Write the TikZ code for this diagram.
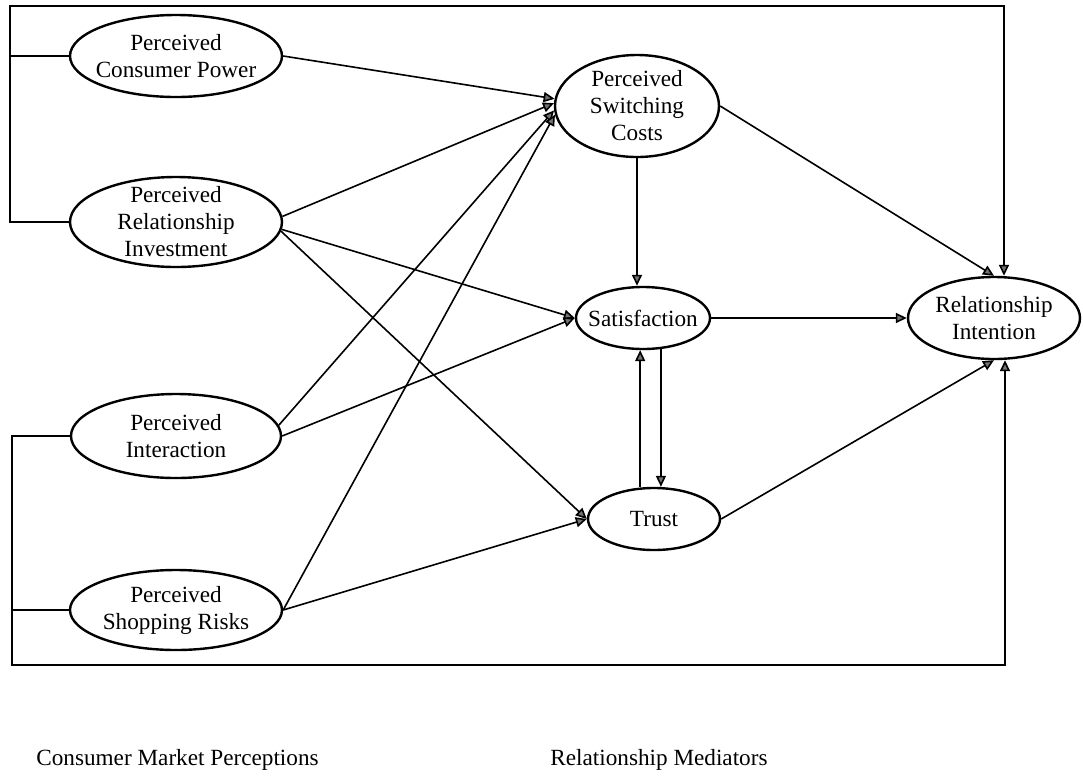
\documentclass[tikz,border=0pt]{standalone}
\usepackage{fontspec}
\setmainfont{Liberation Serif}
\usetikzlibrary{arrows.meta,shapes.geometric}
\begin{document}
\begin{tikzpicture}
% Path model: consumer market perceptions -> relationship mediators -> intention
\def\pxsz{0.5pt}
\providecommand{\modelLineWidth}{0.8pt}
\providecommand{\modelShapeWidth}{1.2pt}
\providecommand{\modelTipColor}{black!55}
\begin{scope}[x=\pxsz, y=-\pxsz,
  construct/.style={ellipse, draw, line width=\modelShapeWidth, inner sep=-6pt,
    align=center, font=\fontsize{11.6}{13.5}\selectfont},
  effect/.style={line width=\modelLineWidth, -{Triangle[length=5.5pt,width=5pt,fill=\modelTipColor]}},
  link/.style={line width=\modelLineWidth},
  caption/.style={anchor=base west, inner sep=0pt, font=\fontsize{11.6}{13.5}\selectfont}]
  \useasboundingbox (0,0) rectangle (1083,778);
  % Constructs
  \node[construct, minimum width=106pt, minimum height=41pt] (pcp) at (176,56) {Perceived\\Consumer Power};
  \node[construct, minimum width=106pt, minimum height=45pt] (pri) at (176,222) {Perceived\\Relationship\\Investment};
  \node[construct, minimum width=105pt, minimum height=42pt] (pi) at (176,436) {Perceived\\Interaction};
  \node[construct, minimum width=106pt, minimum height=40pt] (psr) at (176,610) {Perceived\\Shopping Risks};
  \node[construct, minimum width=82pt, minimum height=51pt] (psc) at (637,106) {Perceived\\Switching\\Costs};
  \node[construct, minimum width=67pt, minimum height=31pt] (sat) at (643,318) {Satisfaction};
  \node[construct, minimum width=66pt, minimum height=31pt] (trust) at (654,519) {Trust};
  \node[construct, minimum width=86pt, minimum height=41pt] (ri) at (994,318) {Relationship\\Intention};
  % Frame corners
  \coordinate (tl) at (10,6);
  \coordinate (tr) at (1004,6);
  \coordinate (bl) at (12,665);
  \coordinate (br) at (1005,665);
  % Outer brackets to the intention
  \draw[link] (pcp.west) -- (pcp.west -| tl);
  \draw[effect] (pri.west) -| (tl) -- (tr) -- (tr |- ri.north);
  \draw[link] (psr.west) -- (psr.west -| bl);
  \draw[effect] (pi.west) -| (bl) -- (br) -- (br |- ri.south);
  % Perceptions -> switching costs
  \draw[effect] (pcp.east) -- (psc.175);
  \draw[effect] (pri.3) -- (psc.178);
  \draw[effect] (pi.6) -- (psc.183);
  \draw[effect] (psr.east) -- (psc.186);
  % Perceptions -> satisfaction and trust
  \draw[effect] (pri.-4) -- (sat.west);
  \draw[effect] (pi.0) -- (sat.west);
  \draw[effect] (pri.-5) -- (trust.west);
  \draw[effect] (psr.east) -- (trust.west);
  % Mediators
  \draw[effect] (psc.south) -- (psc.south |- sat.north);
  \draw[effect] (sat.-60) -- (sat.-60 |- trust.north);
  \draw[effect] (sat.-95 |- trust.north) -- (sat.-95);
  % Mediators -> intention
  \draw[effect] (psc.east) -- (ri.north);
  \draw[effect] (sat.east) -- (ri.west);
  \draw[effect] (trust.east) -- (ri.south);
  % Captions
  \node[caption] (capleft) at (36,765) {Consumer Market Perceptions};
  \node[caption] (capright) at (550,765) {Relationship Mediators};
\end{scope}
\end{tikzpicture}
\end{document}
